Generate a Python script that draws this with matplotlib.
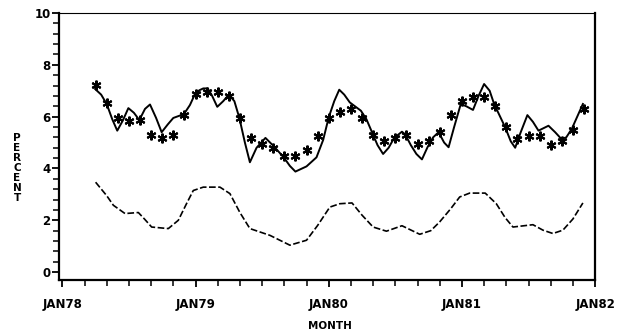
import numpy as np
import matplotlib
matplotlib.use("Agg")
import matplotlib.pyplot as plt
from matplotlib.ticker import MultipleLocator

# ---------------- data (months since JAN78) ----------------
star_month = list(range(3, 48))
star_pct = [7.23, 6.53, 5.95, 5.85, 5.87, 5.28, 5.17, 5.28, 6.08, 6.87,
            6.97, 6.97, 6.78, 5.95, 5.17, 4.95, 4.80, 4.47, 4.47, 4.72,
            5.27, 5.96, 6.19, 6.28, 5.96, 5.30, 5.05, 5.17, 5.30, 4.95,
            5.05, 5.40, 6.08, 6.62, 6.74, 6.74, 6.40, 5.62, 5.14, 5.27,
            5.27, 4.91, 5.05, 5.49, 6.30]

solid_month = [2.95, 3.5, 4.0, 4.5, 4.95, 5.45, 5.95, 6.45, 6.94, 7.45,
               7.9, 8.45, 8.95, 9.5, 10.0, 10.96, 11.5, 11.95, 12.35, 12.7,
               13.1, 13.5, 13.96, 14.5, 15.0, 15.5, 15.95, 16.45, 16.9, 17.5,
               18.3, 19.0, 19.95, 20.5, 21.0, 22.0, 22.9, 23.5, 24.0, 24.5,
               24.95, 25.4, 25.9, 26.9, 27.4, 27.9, 28.4, 28.9, 29.4, 29.9,
               30.6, 30.9, 31.4, 31.9, 32.4, 32.9, 33.4, 33.9, 34.4, 34.8,
               35.3, 35.9, 36.4, 37.0, 37.5, 38.0, 38.5, 38.9, 39.9, 40.4,
               40.8, 41.3, 41.9, 42.4, 42.9, 43.8, 44.4, 44.96, 45.4, 45.9,
               46.9]
solid_pct = [7.07, 6.85, 6.49, 5.90, 5.46, 5.85, 6.33, 6.15, 5.87, 6.30,
             6.47, 5.95, 5.40, 5.70, 5.95, 6.10, 6.45, 6.87, 7.02, 7.09,
             7.09, 6.80, 6.38, 6.60, 6.85, 6.60, 5.95, 5.00, 4.24, 4.80,
             5.18, 4.88, 4.43, 4.10, 3.88, 4.08, 4.43, 5.10, 5.97, 6.60,
             7.04, 6.85, 6.55, 6.23, 5.90, 5.40, 4.90, 4.56, 4.80, 5.18,
             5.42, 5.31, 4.90, 4.56, 4.35, 4.82, 5.20, 5.40, 5.00, 4.82,
             5.60, 6.49, 6.40, 6.26, 6.80, 7.26, 7.00, 6.49, 5.59, 5.05,
             4.80, 5.40, 6.06, 5.80, 5.46, 5.65, 5.40, 5.14, 5.20, 5.53,
             6.49]

dash_month = [3.0, 4.0, 4.6, 5.65, 6.85, 7.4, 8.05, 9.55, 10.45, 11.2,
              11.8, 12.7, 14.2, 15.1, 16.0, 16.9, 18.7, 20.5, 22.0, 23.0,
              24.1, 25.0, 26.1, 27.0, 28.0, 29.2, 30.6, 32.2, 33.2, 34.0,
              35.0, 35.8, 36.7, 38.1, 39.1, 39.9, 40.6, 42.4, 43.3, 44.2,
              45.1, 46.0, 46.9]
dash_pct = [3.47, 2.95, 2.58, 2.26, 2.30, 2.05, 1.74, 1.68, 2.00, 2.65,
            3.15, 3.28, 3.28, 3.03, 2.30, 1.68, 1.42, 1.04, 1.23, 1.80,
            2.51, 2.64, 2.67, 2.20, 1.74, 1.58, 1.79, 1.46, 1.60, 1.94,
            2.45, 2.90, 3.05, 3.05, 2.64, 2.10, 1.74, 1.83, 1.62, 1.49,
            1.62, 2.05, 2.67]

tick_month = [0, 12, 24, 36, 48]
tick_label = ["JAN78", "JAN79", "JAN80", "JAN81", "JAN82"]

# ---------------- plot ----------------
fig = plt.figure(figsize=(6.39, 3.34), dpi=100)
ax = fig.add_axes([0.0923, 0.162, 0.839, 0.799])

ax.plot(solid_month, solid_pct, color="black", lw=1.4)
ax.plot(dash_month, dash_pct, color="black", lw=1.2, ls=(0, (4, 1.5)))
ax.plot(star_month, star_pct, ls="none", marker=(6, 2, 0), ms=7,
        mew=1.5, color="black")

ax.set_xlim(-0.3, 48)
ax.set_ylim(-0.3, 10)
ax.set_xticks(tick_month)
ax.set_xticklabels(tick_label)
ax.xaxis.set_minor_locator(MultipleLocator(2))
ax.yaxis.set_major_locator(MultipleLocator(2))
ax.yaxis.set_minor_locator(MultipleLocator(0.4))

for s in ["left", "bottom", "right"]:
    ax.spines[s].set_linewidth(1.6)
ax.spines["top"].set_linewidth(0.8)

ax.tick_params(axis="both", which="major", direction="out", length=5,
               width=1.3, labelsize=8.5)
ax.tick_params(axis="both", which="minor", direction="out", length=4,
               width=1.1)
ax.tick_params(axis="x", which="major", pad=8)
ax.tick_params(axis="y", which="major", pad=1)
for lab in ax.get_xticklabels() + ax.get_yticklabels():
    lab.set_fontweight("bold")

fig.text(330 / 639, 1 - 326 / 334, "MONTH", ha="center", va="center",
         fontsize=7.5, fontweight="bold")
fig.text(17 / 639, 1 - 168 / 334, "\n".join("PERCENT"), ha="center",
         va="center", fontsize=7.5, fontweight="bold", linespacing=1.0)

fig.savefig("out.png", dpi=100)
